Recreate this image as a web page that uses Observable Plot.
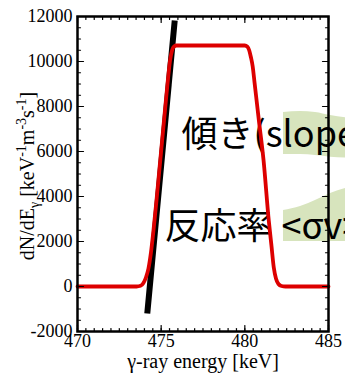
<!DOCTYPE html>
<html>
<head>
<meta charset="utf-8">
<script src="https://cdn.jsdelivr.net/npm/d3@7"></script>
<script src="https://cdn.jsdelivr.net/npm/@observablehq/plot@0.6"></script>
<style>
  html, body { margin: 0; padding: 0; background: white; overflow: hidden; }
</style>
</head>
<body>
<div id="chart"></div>
<script>
// Red spectrum curve (energy keV, dN/dE)
const curveE = [470, 473.53, 473.77, 473.94, 474.09, 474.24, 474.39, 474.54, 474.72, 474.90, 475.08, 475.26, 475.41, 475.53, 475.65, 475.77, 475.92,
                480.0, 480.15, 480.26, 480.36, 480.47, 480.58, 480.84, 481.12, 481.43, 481.59, 481.73, 481.86, 482.01, 482.19, 482.43, 485];
const curveN = [0, 0, 31, 156, 400, 800, 1511, 2489, 3822, 5244, 6667, 8089, 9244, 10044, 10489, 10667, 10711,
                10711, 10660, 10500, 10200, 9780, 9066, 7378, 5600, 2933, 1822, 844, 356, 111, 22, 0, 0];

// Black tangent (slope) line
const slopeE = [474.17, 475.81];
const slopeN = [-1200, 11820];

// Decorative green bands (partially outside the frame)
const bandE = [482.31, 483.33, 484.22, 485.12, 486.6];
const upperHi = [7733, 7778, 7733, 7600, 7450];
const upperLo = [5867, 5867, 5822, 5750, 5689];
const lowerHi = [3378, 3556, 3822, 4133, 4480];
const lowerLo = [2000, 2000, 2000, 2000, 2000];

// Annotation texts
const noteText = ["傾き(slope)", "反応率<σv>"];
const noteE = [476.22, 475.2];
const noteN = [6178, 2089];

// Axis ticks
const xTicks = [470, 475, 480, 485];
const yTicks = [-2000, 0, 2000, 4000, 6000, 8000, 10000, 12000];
const xMinor = d3.range(470, 485.001, 0.5);
const yMinor = d3.range(-2000, 12000.001, 500);

const xLabel = "γ-ray energy [keV]";
const yLabel = "dN/dEγ [keV-1m-3s-1]";

const SERIF = "Liberation Serif";
const tickShape = { draw(ctx, l) { ctx.moveTo(0, 0); ctx.lineTo(0, -l); } };
const tk = (data, opts) => Plot.vector(data, { anchor: "start", shape: tickShape, stroke: "black", strokeWidth: 1.2, ...opts });

const plot = Plot.plot({
  width: 345,
  height: 376,
  marginLeft: 77,
  marginRight: 17,
  marginTop: 16,
  marginBottom: 45,
  x: { domain: [470, 485], axis: null },
  y: { domain: [-2000, 12000], axis: null },
  style: { fontFamily: SERIF, fontSize: "18px", background: "white", overflow: "hidden", color: "black" },
  marks: [
    Plot.areaY(bandE, { x: bandE, y1: upperLo, y2: upperHi, fill: "#d7e4bd", curve: "monotone-x" }),
    Plot.areaY(bandE, { x: bandE, y1: lowerLo, y2: lowerHi, fill: "#d7e4bd", curve: "monotone-x" }),
    Plot.text(noteText, { x: noteE, y: noteN, text: noteText, textAnchor: "start", lineAnchor: "bottom",
      fontSize: 36, fontFamily: "Noto Sans CJK JP", fill: "black" }),
    Plot.line(slopeE, { x: slopeE, y: slopeN, stroke: "black", strokeWidth: 6, strokeLinecap: "butt" }),
    Plot.line(curveE, { x: curveE, y: curveN, stroke: "#dd0000", strokeWidth: 3.8, curve: "monotone-x" }),
    Plot.frame({ stroke: "black", strokeWidth: 2.5 }),
    // minor ticks
    tk(xMinor, { x: d => d, y: -2000, rotate: 0, length: 3 }),
    tk(xMinor, { x: d => d, y: 12000, rotate: 180, length: 3 }),
    tk(yMinor, { y: d => d, x: 470, rotate: 90, length: 3 }),
    tk(yMinor, { y: d => d, x: 485, rotate: -90, length: 3 }),
    // major ticks
    tk(xTicks, { x: d => d, y: -2000, rotate: 0, length: 6 }),
    tk(xTicks, { x: d => d, y: 12000, rotate: 180, length: 6 }),
    tk(yTicks, { y: d => d, x: 470, rotate: 90, length: 6 }),
    tk(yTicks, { y: d => d, x: 485, rotate: -90, length: 6 }),
    // tick labels
    Plot.text(xTicks, { x: d => d, y: -2000, text: d => String(d), lineAnchor: "top", textAnchor: "middle", dy: 3, fontSize: 18, fontFamily: SERIF, fill: "black" }),
    Plot.text(yTicks, { x: 470, y: d => d, text: d => String(d), lineAnchor: "middle", textAnchor: "end", dx: -5, fontSize: 18, fontFamily: SERIF, fill: "black" }),
    Plot.text([xLabel], { frameAnchor: "bottom", dy: 36, lineAnchor: "bottom", fontSize: 20, fontFamily: SERIF, text: d => d }),
    Plot.text([yLabel], { frameAnchor: "left", textAnchor: "middle", rotate: -90, dx: -44, dy: 2, lineAnchor: "bottom", fontSize: 20, fontFamily: SERIF, text: d => d })
  ]
});

// Rich formatting of the y label (subscript / superscripts)
d3.select(plot).selectAll("text").filter(function () { return this.textContent === yLabel; }).each(function () {
  const t = d3.select(this);
  t.text(null).attr("text-anchor", "middle");
  const parts = [
    ["dN/dE", 0], ["γ", 1], [" [keV", -1], ["-1", 2], ["m", -2], ["-3", 2], ["s", -2], ["-1", 2], ["]", -2]
  ];
  for (const [s, code] of parts) {
    const span = t.append("tspan").text(s);
    if (code === 1) span.attr("dy", 5).attr("font-size", 14);
    else if (code === -1) span.attr("dy", -5);
    else if (code === 2) span.attr("dy", -8).attr("font-size", 14);
    else if (code === -2) span.attr("dy", 8);
  }
});

// Slightly wider gap before "<σv>" as in the reference
d3.select(plot).selectAll("text").filter(function () { return this.textContent === noteText[1]; }).each(function () {
  const t = d3.select(this);
  t.text(null);
  t.append("tspan").text("反応率");
  t.append("tspan").attr("dx", 9).text("<σv>");
});

document.getElementById("chart").appendChild(plot);
</script>
</body>
</html>
